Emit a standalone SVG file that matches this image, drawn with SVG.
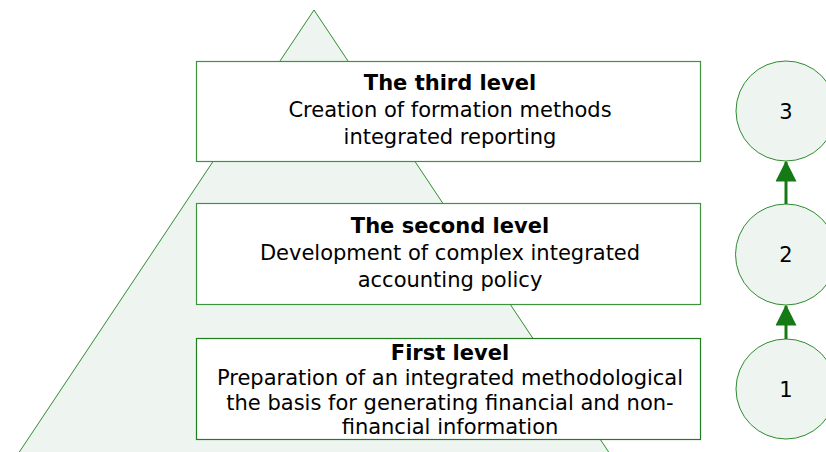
<svg xmlns="http://www.w3.org/2000/svg" width="826" height="452" viewBox="0 0 826 452">
  <style>
    .tri { fill: #eef5f0; stroke: #2e8b2e; stroke-width: 1; }
    .box { fill: #ffffff; stroke: #3d943d; stroke-width: 1.2; }
    .circ { fill: #eef5f0; stroke: #2e8b2e; stroke-width: 1; }
    .t { font-family: "DejaVu Sans", Verdana, sans-serif; font-size: 21px; fill: #000; text-anchor: middle; }
    .b { font-weight: bold; }
    .s { font-size: 21px; }
    .arrow { stroke: #157a15; stroke-width: 3; fill: none; }
  </style>
  <defs>
    <marker id="ah" markerWidth="7" markerHeight="7" refX="6.5" refY="3.5" orient="auto" markerUnits="strokeWidth">
      <path d="M0,0 L7,3.5 L0,7 Z" fill="#157a15"/>
    </marker>
  </defs>
  <rect width="826" height="452" fill="#ffffff"/>
  <polygon class="tri" points="314,10 -10,496 638,496"/>

  <g id="level3">
    <rect class="box" x="196.5" y="61.5" width="504" height="100"/>
    <text class="t b" x="450" y="90">The third level</text>
    <text class="t" x="450" y="117">Creation of formation methods</text>
    <text class="t" x="450" y="144">integrated reporting</text>
  </g>
  <g id="level2">
    <rect class="box" x="196.5" y="203.5" width="504" height="101"/>
    <text class="t b" x="450" y="233">The second level</text>
    <text class="t" x="450" y="260">Development of complex integrated</text>
    <text class="t" x="450" y="287">accounting policy</text>
  </g>
  <g id="level1">
    <rect class="box" x="196.5" y="338.5" width="504" height="101" style="stroke:#1f7f1f"/>
    <text class="t b s" x="450" y="360">First level</text>
    <text class="t s" x="450" y="385">Preparation of an integrated methodological</text>
    <text class="t s" x="450" y="410">the basis for generating financial and non-</text>
    <text class="t s" x="450" y="434">financial information</text>
  </g>

  <g id="c3">
    <circle class="circ" cx="786" cy="111" r="50"/>
    <text class="t" x="786" y="119">3</text>
  </g>
  <g id="c2">
    <circle class="circ" cx="786" cy="254.5" r="50.5"/>
    <text class="t" x="786" y="262">2</text>
  </g>
  <g id="c1">
    <circle class="circ" cx="786" cy="389" r="50"/>
    <text class="t" x="786" y="397">1</text>
  </g>

  <g id="connectors">
    <line class="arrow" x1="786" y1="204" x2="786" y2="162" marker-end="url(#ah)"/>
    <line class="arrow" x1="786" y1="339" x2="786" y2="306" marker-end="url(#ah)"/>
  </g>
</svg>
